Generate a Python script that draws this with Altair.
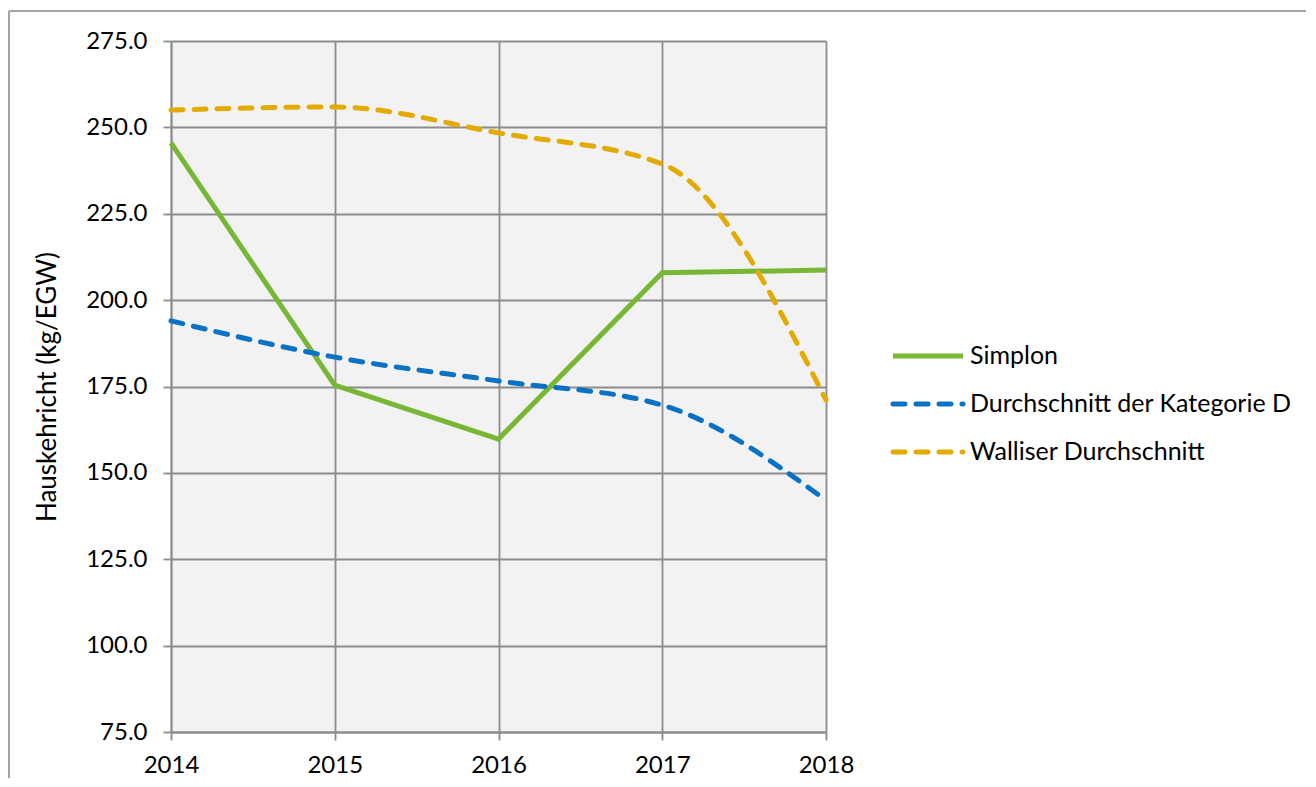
import altair as alt
import pandas as pd

years = [2014, 2015, 2016, 2017, 2018]
series_names = ["Simplon", "Durchschnitt der Kategorie D", "Walliser Durchschnitt"]
simplon = [245.5, 175.4, 159.8, 207.9, 208.7]
kategorie_d = [194.0, 183.5, 176.6, 169.6, 142.1]
wallis = [255.0, 255.9, 248.4, 239.4, 171.1]
y_ticks = [75, 100, 125, 150, 175, 200, 225, 250, 275]
colors = ["#77b734", "#0a72c4", "#e3ab02"]

values = [simplon, kategorie_d, wallis]
FONT = "Lato"
FS = 24
W, H = 655, 691

x_enc = alt.X("year:Q", scale=alt.Scale(domain=[2014, 2018], nice=False, zero=False),
              axis=alt.Axis(values=years, format="d", title=None, labelPadding=13,
                            labelFlush=False))
y_enc = alt.Y("value:Q", scale=alt.Scale(domain=[75, 275], nice=False, zero=False),
              axis=alt.Axis(values=y_ticks, format=".1f", title="Hauskehricht (kg/EGW)",
                            labelPadding=16, titleX=-124, titleY=H / 2, titleAngle=-90,
                            titleBaseline="middle", titleAlign="center",
                            titleFontWeight="normal", titleFont=FONT, titleFontSize=26,
                            titleColor="black"))

layers = []
for i, (name, vals) in enumerate(zip(series_names, values)):
    df = pd.DataFrame({"year": years, "value": vals, "series": name})
    if i == 0:
        mk = alt.Chart(df).mark_line(color=colors[i], strokeWidth=5, strokeCap="butt",
                                     interpolate="linear")
    else:
        mk = alt.Chart(df).mark_line(color=colors[i], strokeWidth=5, strokeCap="round",
                                     strokeDash=[12, 11], interpolate="monotone")
    layers.append(mk.encode(x=x_enc, y=y_enc))

# legend (manual)
leg_x0, leg_x1, leg_tx, leg_y0, leg_dy = 722, 792, 799, 315, 48
for i, name in enumerate(series_names):
    one = alt.Data(values=[{"label": name}])
    kw = dict(color=colors[i], strokeWidth=5)
    if i == 0:
        kw.update(strokeCap="butt")
    else:
        kw.update(strokeCap="round", strokeDash=[12, 11])
    layers.append(alt.Chart(one).mark_rule(**kw).encode(
        x=alt.value(leg_x0), x2=alt.value(leg_x1), y=alt.value(leg_y0 + leg_dy * i)))
    layers.append(alt.Chart(one).mark_text(align="left", baseline="middle", font=FONT,
                                           fontSize=25, color="black").encode(
        text="label:N", x=alt.value(leg_tx), y=alt.value(leg_y0 + leg_dy * i)))

# outer frame
frame = alt.Data(values=[{}])
fkw = dict(color="#a3a3a3", strokeWidth=2)
layers.append(alt.Chart(frame).mark_rule(**fkw).encode(
    x=alt.value(-162), y=alt.value(-30), y2=alt.value(740)))
layers.append(alt.Chart(frame).mark_rule(**fkw).encode(
    x=alt.value(-162), x2=alt.value(1136), y=alt.value(-30)))
layers.append(alt.Chart(frame).mark_rule(**fkw).encode(
    x=alt.value(1136), y=alt.value(-30), y2=alt.value(740)))

chart = alt.layer(*layers).properties(
    width=W, height=H,
    background="white",
    autosize=alt.AutoSizeParams(type="none"),
    padding={"left": 163, "top": 33, "right": 480, "bottom": 46},
).configure_view(fill="#f2f2f2", stroke=None).configure_axis(
    gridColor="#8c8c8c", gridWidth=1.8, gridOpacity=1,
    domainColor="#8c8c8c", domainWidth=1.8,
    tickColor="#8c8c8c", tickWidth=1.8, tickSize=8,
    labelFont=FONT, labelFontSize=FS, labelColor="black",
)

chart.save("out.html", embed_options={"renderer": "svg", "actions": False})
